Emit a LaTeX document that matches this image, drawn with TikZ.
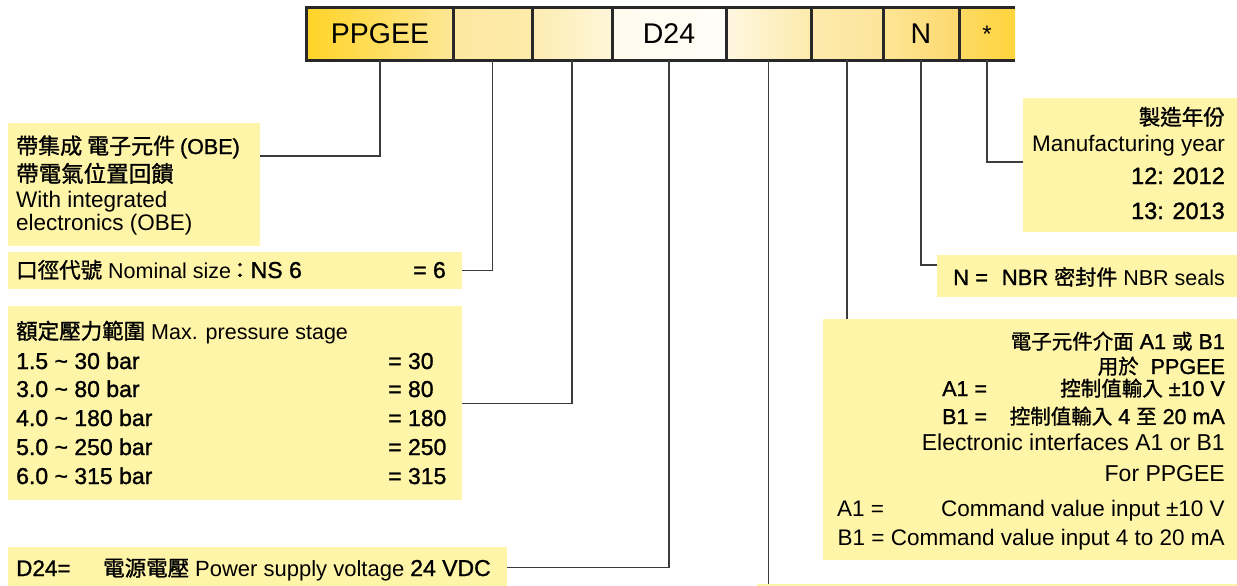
\documentclass[tikz,border=0pt]{standalone}
\usepackage{fontspec}
\setmainfont{Liberation Sans}
\newfontfamily\latm{Liberation Sans}[FakeBold=1.2]
\newfontfamily\cjk{Noto Sans CJK TC}
\newfontfamily\cjkm{Noto Sans CJK TC}[FakeBold=1.2]
\newcommand\fsz[1]{\fontsize{#1}{#1}\selectfont}
\definecolor{boxy}{RGB}{255,245,168}
\definecolor{ln}{RGB}{60,60,60}
\definecolor{bar}{RGB}{40,40,40}
\begin{document}
\begin{tikzpicture}[x=1pt,y=-1pt,
  cell/.style={inner sep=0, minimum height=52pt, text=black, font=\fsz{28.5}},
  panel/.style={fill=boxy, inner sep=0, anchor=north west},
  lt/.style={inner sep=0, anchor=base west, font=\fsz{21.5}},
  rt/.style={inner sep=0, anchor=base east, font=\fsz{21.5}},
  conn/.style={draw=ln, line width=1.4pt},
  barline/.style={draw=bar, line width=2.8pt}]
\useasboundingbox (0,0) rectangle (1237,586);

% ---- code bar ----
\node[cell, minimum width=146pt, left color={rgb,255:red,255;green,212;blue,40}, right color={rgb,255:red,253;green,231;blue,150}] (c1) at (380,34) {PPGEE};
\node[cell, minimum width=79pt, left color={rgb,255:red,253;green,232;blue,160}, right color={rgb,255:red,253;green,235;blue,170}] (c2) at (492.5,34) {};
\node[cell, minimum width=80pt, left color={rgb,255:red,253;green,236;blue,178}, right color={rgb,255:red,254;green,246;blue,218}] (c3) at (572,34) {};
\node[cell, minimum width=114pt, left color={rgb,255:red,255;green,251;blue,238}, right color={rgb,255:red,255;green,253;blue,247}] (c4) at (669,34) {D24};
\node[cell, minimum width=85pt, left color={rgb,255:red,254;green,247;blue,225}, right color={rgb,255:red,253;green,234;blue,172}] (c5) at (768.5,34) {};
\node[cell, minimum width=72pt, left color={rgb,255:red,253;green,234;blue,172}, right color={rgb,255:red,253;green,228;blue,155}] (c6) at (847,34) {};
\node[cell, minimum width=76pt, left color={rgb,255:red,253;green,230;blue,150}, right color={rgb,255:red,253;green,216;blue,110}] (c7) at (921,34) {N};
\node[cell, minimum width=56pt, font=\fsz{24}, left color={rgb,255:red,253;green,218;blue,100}, right color={rgb,255:red,255;green,212;blue,60}] (c8) at (987,34) {*};
\draw[barline] (c8.north east) -- (c1.north west) -- (c1.south west) -- (c8.south east);
\foreach \c in {c1,c2,c3,c4,c5,c6,c7}{\draw[barline] (\c.north east) -- (\c.south east);}

% ---- panels ----
\node[panel, minimum width=252pt, minimum height=123pt] (obe) at (8,123) {};
\node[panel, minimum width=454pt, minimum height=37pt] (ns) at (8,252) {};
\node[panel, minimum width=454pt, minimum height=194pt] (pr) at (8,306) {};
\node[panel, minimum width=499pt, minimum height=40pt] (dv) at (8,547) {};
\node[panel, minimum width=214pt, minimum height=134pt] (mfg) at (1023,98) {};
\node[panel, minimum width=300pt, minimum height=42pt] (nb) at (937,255) {};
\node[panel, minimum width=414pt, minimum height=241pt] (el) at (823,319) {};
\node[panel, minimum width=480pt, minimum height=10pt] (bot) at (757,584) {};

% ---- connectors ----
\draw[conn] (c1.south) |- ([yshift=-33pt]obe.north east);
\draw[conn] (c2.south) |- (ns.east);
\draw[conn] (c3.south) |- (pr.east);
\draw[conn] (c4.south) |- (dv.east);
\draw[conn] (c5.south) -- (c5.south |- bot.north);
\draw[conn] (c6.south) -- (c6.south |- el.north);
\draw[conn] (c7.south) |- ([yshift=-10pt]nb.north west);
\draw[conn] (c8.south) |- ([yshift=-64pt]mfg.north west);

% ---- left texts ----
\node[lt, font=\cjkm\fsz{22}] (o1) at (16,154) {帶集成 電子元件 {\latm\fsz{21.5}(OBE)}};
\node[lt, font=\cjkm\fsz{22.5}] (o2) at (16,182) {帶電氣位置回饋};
\node[lt, font=\fsz{22.5}] (o3) at (16,207) {With integrated};
\node[lt, font=\fsz{22.5}] (o4) at (16,230) {electronics (OBE)};

\node[lt] (n1) at (16,278) {{\cjkm\fsz{21.5}口徑代號} {\fsz{21.5}Nominal size}\hspace{-2pt}{\cjkm\fsz{21.5}：}{\latm\fsz{23}NS 6}};
\node[lt, font=\latm\fsz{23}] (n2) at (413,278) {= 6};

\node[lt] (p0) at (16,339) {{\cjkm\fsz{21.5}額定壓力範圍} {\fsz{21.5}Max. pressure stage}};
\node[lt, font=\latm\fsz{23}] (p1) at (16,369) {1.5 \textasciitilde{} 30 bar};
\node[lt, font=\latm\fsz{23}] (p2) at (16,397) {3.0 \textasciitilde{} 80 bar};
\node[lt, font=\latm\fsz{23}] (p3) at (16,426) {4.0 \textasciitilde{} 180 bar};
\node[lt, font=\latm\fsz{23}] (p4) at (16,455) {5.0 \textasciitilde{} 250 bar};
\node[lt, font=\latm\fsz{23}] (p5) at (16,484) {6.0 \textasciitilde{} 315 bar};
\node[lt, font=\latm\fsz{23}] (q1) at (388,369) {= 30};
\node[lt, font=\latm\fsz{23}] (q2) at (388,397) {= 80};
\node[lt, font=\latm\fsz{23}] (q3) at (388,426) {= 180};
\node[lt, font=\latm\fsz{23}] (q4) at (388,455) {= 250};
\node[lt, font=\latm\fsz{23}] (q5) at (388,484) {= 315};

\node[lt, font=\latm\fsz{22.5}] (d1) at (16,576) {D24=};
\node[lt] (d2) at (103,576) {{\cjkm\fsz{21.5}電源電壓} {\fsz{22}Power supply voltage} {\latm\fsz{23}24 VDC}};

% ---- right texts ----
\node[rt, font=\cjkm\fsz{21.5}] (m1) at (1225,125) {製造年份};
\node[rt, font=\fsz{22.5}] (m2) at (1225,151) {Manufacturing year};
\node[rt, font=\latm\fsz{23.5}] (m3) at (1225,184) {12: 2012};
\node[rt, font=\latm\fsz{23.5}] (m4) at (1225,219) {13: 2013};

\node[lt, font=\latm\fsz{22}] (b1) at (953,285) {N =};
\node[rt] (b2) at (1225,285) {{\latm\fsz{22}NBR} {\cjkm\fsz{21}密封件} {\fsz{21.5}NBR seals}};

\node[rt] (e1) at (1225,349) {{\cjkm\fsz{20.5}電子元件介面} {\latm\fsz{21.5}A1} {\cjkm\fsz{20.5}或} {\latm\fsz{21.5}B1}};
\node[rt] (e2) at (1225,374) {{\cjkm\fsz{20.5}用於} \ {\latm\fsz{21.5}PPGEE}};
\node[lt, font=\latm\fsz{21.5}] (e3a) at (942,396) {A1 =};
\node[rt] (e3b) at (1225,396) {{\cjkm\fsz{20.5}控制值輸入} {\latm\fsz{21.5}±10 V}};
\node[lt, font=\latm\fsz{21.5}] (e4a) at (942,424) {B1 =};
\node[rt] (e4b) at (1225,424) {{\cjkm\fsz{20.5}控制值輸入} {\latm\fsz{21.5}4} {\cjkm\fsz{20.5}至} {\latm\fsz{21.5}20 mA}};
\node[rt, font=\fsz{23}] (e5) at (1225,450) {Electronic interfaces A1 or B1};
\node[rt, font=\fsz{23}] (e6) at (1225,481) {For PPGEE};
\node[lt, font=\fsz{22.5}] (e7a) at (837,516) {A1 =};
\node[rt, font=\fsz{22.5}] (e7b) at (1225,516) {Command value input ±10 V};
\node[rt, font=\fsz{22.5}] (e8) at (1225,545) {B1 = Command value input 4 to 20 mA};
\end{tikzpicture}
\end{document}
